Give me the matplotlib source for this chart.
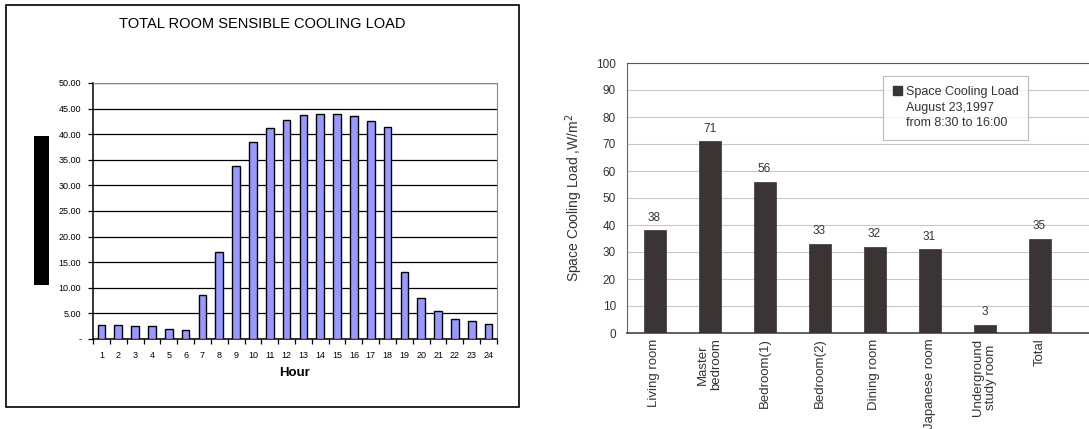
import matplotlib
matplotlib.use("Agg")
import matplotlib.pyplot as plt
from matplotlib.patches import Rectangle, Patch
from matplotlib.ticker import MultipleLocator, FixedLocator, FuncFormatter

plt.rcParams['font.family'] = ['Liberation Sans', 'DejaVu Sans']

# Hourly total room sensible cooling load
hours = list(range(1, 25))
hourly_load = [2.7, 2.7, 2.5, 2.5, 2.0, 1.8, 8.5, 17.0, 33.8, 38.5, 41.2, 42.7,
               43.7, 44.0, 44.0, 43.5, 42.5, 41.5, 13.0, 8.0, 5.5, 4.0, 3.5, 3.0]

# Space cooling load per room (W/m2)
rooms = ["Living room", "Master\nbedroom", "Bedroom(1)", "Bedroom(2)",
         "Dining room", "Japanese room", "Underground\nstudy room", "Total"]
room_load = [38, 71, 56, 33, 32, 31, 3, 35]

W, H = 1089, 429
fig = plt.figure(figsize=(W / 100, H / 100), dpi=100)


def fx(px):
    return px / W


def fy(py):
    return 1 - py / H


# ---------------- left panel ----------------
fig.patches.append(Rectangle((fx(6), fy(407)), fx(519) - fx(6), fy(5) - fy(407),
                             transform=fig.transFigure, fill=False,
                             edgecolor='black', linewidth=1.2))
fig.patches.append(Rectangle((fx(34), fy(285)), fx(49) - fx(34), fy(136) - fy(285),
                             transform=fig.transFigure, facecolor='black',
                             edgecolor='none'))
fig.text(fx(262), fy(24), "TOTAL ROOM SENSIBLE COOLING LOAD", ha='center',
         va='center', fontsize=10.5)

ax1 = fig.add_axes([fx(93), fy(339), fx(497) - fx(93), fy(83) - fy(339)])
ax1.bar(hours, hourly_load, width=0.45, color='#9999ff', edgecolor='black',
        linewidth=1.0, zorder=3)
ax1.set_xlim(0.5, 24.5)
ax1.set_ylim(0, 50)
ax1.yaxis.set_major_locator(MultipleLocator(5))
ax1.yaxis.set_major_formatter(FuncFormatter(lambda v, p: "-" if v == 0 else f"{v:.2f}"))
ax1.grid(axis='y', color='black', linewidth=0.9, zorder=1)
ax1.set_xticks(hours)
ax1.set_xticklabels([str(h) for h in hours])
ax1.xaxis.set_minor_locator(FixedLocator([h + 0.5 for h in range(0, 25)]))
ax1.tick_params(axis='x', which='major', length=0, labelsize=6.5, pad=9)
ax1.tick_params(axis='x', which='minor', length=3.5, width=0.9, direction='out')
ax1.tick_params(axis='y', length=3.5, width=0.9, labelsize=6.5, pad=5)
for s in ('top', 'right'):
    ax1.spines[s].set_color('#888888')
for s in ('left', 'bottom'):
    ax1.spines[s].set_color('black')
    ax1.spines[s].set_linewidth(1.1)
ax1.set_xlabel("Hour", fontsize=9.5, fontweight='bold', labelpad=5)

# ---------------- right panel ----------------
ax2 = fig.add_axes([fx(627), fy(333), fx(1089) - fx(627), fy(63) - fy(333)])
xpos = list(range(len(rooms)))
ax2.bar(xpos, room_load, width=0.4, color='#3a3434', edgecolor='#3a3434',
        linewidth=0.5, zorder=3)
for x, v in zip(xpos, room_load):
    ax2.text(x, v + 2.4, str(v), ha='center', va='bottom', fontsize=8.5,
             color='#333333')
ax2.set_xlim(-0.5, 7.9)
ax2.set_ylim(0, 100)
ax2.yaxis.set_major_locator(MultipleLocator(10))
ax2.grid(axis='y', color='#c8c8c8', linewidth=0.8, zorder=1)
ax2.set_xticks(xpos)
ax2.set_xticklabels(rooms, rotation=90, va='top', ha='center', multialignment='center')
ax2.tick_params(axis='x', length=0, labelsize=9.5, pad=4, colors='#333333')
ax2.tick_params(axis='y', length=0, labelsize=8.5, pad=8, colors='#333333')
ax2.spines['right'].set_visible(False)
ax2.spines['top'].set_color('#555555')
ax2.spines['left'].set_color('#666666')
ax2.spines['bottom'].set_color('#444444')
ax2.spines['bottom'].set_linewidth(1.2)
ax2.set_ylabel("Space Cooling Load ,W/m$^2$", fontsize=10, color='#333333',
               labelpad=8)

handles = [Patch(facecolor='#3a3434', edgecolor='#3a3434'),
           Patch(facecolor='none', edgecolor='none'),
           Patch(facecolor='none', edgecolor='none')]
labels = ["Space Cooling Load", "August 23,1997", "from 8:30 to 16:00"]
leg = ax2.legend(handles, labels, loc='upper left',
                 bbox_to_anchor=(fx(883), fy(76)), bbox_transform=fig.transFigure,
                 fontsize=9, frameon=True, fancybox=False, handlelength=0.7,
                 handleheight=0.7, handletextpad=0.3, labelspacing=0.3,
                 borderpad=0.8, borderaxespad=0)
leg.get_frame().set_edgecolor('#aaaaaa')
leg.get_frame().set_linewidth(0.8)
for t in leg.get_texts():
    t.set_color('#333333')

fig.savefig("out.png", dpi=100)
